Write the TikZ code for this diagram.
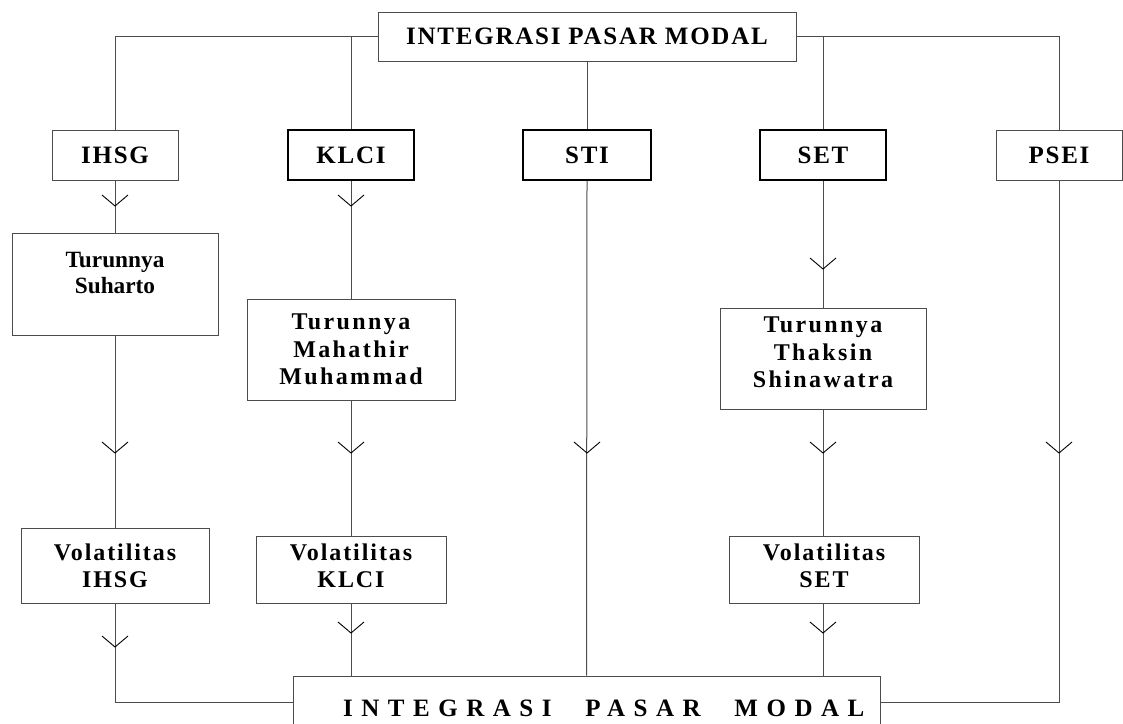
\documentclass[tikz,border=0pt]{standalone}
\usepackage{fontspec}
\setmainfont{Liberation Serif}
\newfontfamily\fTop[LetterSpace=7]{Liberation Serif}
\newfontfamily\fSuh[LetterSpace=0]{Liberation Serif}
\newfontfamily\fWide[LetterSpace=10]{Liberation Serif}
\newfontfamily\fVol[LetterSpace=8]{Liberation Serif}
\newfontfamily\fBot[LetterSpace=34]{Liberation Serif}
\tikzset{
  conn/.style={draw=black!70, line width=1pt},
  box/.style={draw=black!70, line width=1pt, inner sep=0pt, align=center},
  heavy/.style={draw=black, line width=1.6pt},
  bigfont/.style={font={\fontsize{25pt}{29pt}\selectfont\fTop\bfseries}},
  suhfont/.style={font={\fontsize{23.3pt}{26pt}\selectfont\fSuh\bfseries}},
  widefont/.style={font={\fontsize{24pt}{27.5pt}\selectfont\fWide\bfseries}},
  volfont/.style={font={\fontsize{24pt}{27pt}\selectfont\fVol\bfseries}},
  botfont/.style={font={\fontsize{25pt}{29pt}\selectfont\fBot\bfseries}},
  vee/.pic={\draw[black, line width=0.9pt] (-13,-11) -- (0,0) -- (13,-11);},
}
\begin{document}
\begin{tikzpicture}[x=1pt,y=-1pt]
\useasboundingbox[fill=white] (0,0) rectangle (1123,723);
% top
\node[box, bigfont, minimum width=418pt, minimum height=49pt] (top) at (587,36.5) {INTEGRASI PASAR MODAL};
% level 1
\node[box, bigfont, minimum width=126pt, minimum height=50pt] (ihsg) at (115,155) {IHSG};
\node[box, heavy, bigfont, minimum width=126pt, minimum height=50pt] (klci) at (351,155) {KLCI};
\node[box, heavy, bigfont, minimum width=128pt, minimum height=50pt] (sti) at (587,155) {STI};
\node[box, heavy, bigfont, minimum width=126pt, minimum height=50pt] (set) at (823,155) {SET};
\node[box, bigfont, minimum width=126pt, minimum height=50pt] (psei) at (1059,155) {PSEI};
% level 2
\node[box, suhfont, text depth=22pt, minimum width=206pt, minimum height=102pt] (suharto) at (115,284) {Turunnya\\Suharto};
\node[box, widefont, minimum width=208pt, minimum height=101pt] (mahathir) at (351,349.5) {Turunnya\\Mahathir\\Muhammad};
\node[box, widefont, text depth=12pt, minimum width=206pt, minimum height=101pt] (thaksin) at (823,358.5) {Turunnya\\Thaksin\\Shinawatra};
% level 3
\node[box, volfont, minimum width=188pt, minimum height=75pt] (volI) at (115,565.5) {Volatilitas\\IHSG};
\node[box, volfont, text depth=7pt, minimum width=190pt, minimum height=67pt] (volK) at (351,569.5) {Volatilitas\\KLCI};
\node[box, volfont, text depth=7pt, minimum width=190pt, minimum height=67pt] (volS) at (824,569.5) {Volatilitas\\SET};
% bottom
\node[box, minimum width=587pt, minimum height=52pt] (bottom) at (586.5,702) {};
\node[botfont, anchor=base west, inner sep=0pt] (btext) at (343,716) {INTEGRASI\hspace{19pt} PASAR\hspace{19pt} MODAL};
% connectors top
\draw[conn] (top.west) -| (ihsg.north);
\draw[conn] (top.east) -| (psei.north);
\draw[conn] (klci.north) -- (klci.north |- top.west);
\draw[conn] (set.north) -- (set.north |- top.east);
\draw[conn] (top.south) -- (sti.north);
% IHSG column
\draw[conn] (ihsg.south) -- (suharto.north);
\draw[conn] (suharto.south) -- (volI.north);
\draw[conn] (volI.south) |- (bottom.west);
% KLCI column
\draw[conn] (klci.south) -- (mahathir.north);
\draw[conn] (mahathir.south) -- (volK.north);
\draw[conn] (volK.south) -- (volK.south |- bottom.north);
% STI column
\draw[conn] (sti.south) -- (bottom.north);
% SET column
\draw[conn] (set.south) -- (thaksin.north);
\draw[conn] (thaksin.south) -- (thaksin.south |- volS.north);
\draw[conn] (volS.south -| set.south) -- (set.south |- bottom.north);
% PSEI column
\draw[conn] (psei.south) |- (bottom.east);
% arrow marks
\pic at (115,206) {vee};
\pic at (351,206) {vee};
\pic at (823,269) {vee};
\pic at (115,453) {vee};
\pic at (351,453) {vee};
\pic at (587,453) {vee};
\pic at (823,453) {vee};
\pic at (1059,453) {vee};
\pic at (115,647) {vee};
\pic at (351,633) {vee};
\pic at (823,633) {vee};
\end{tikzpicture}
\end{document}
